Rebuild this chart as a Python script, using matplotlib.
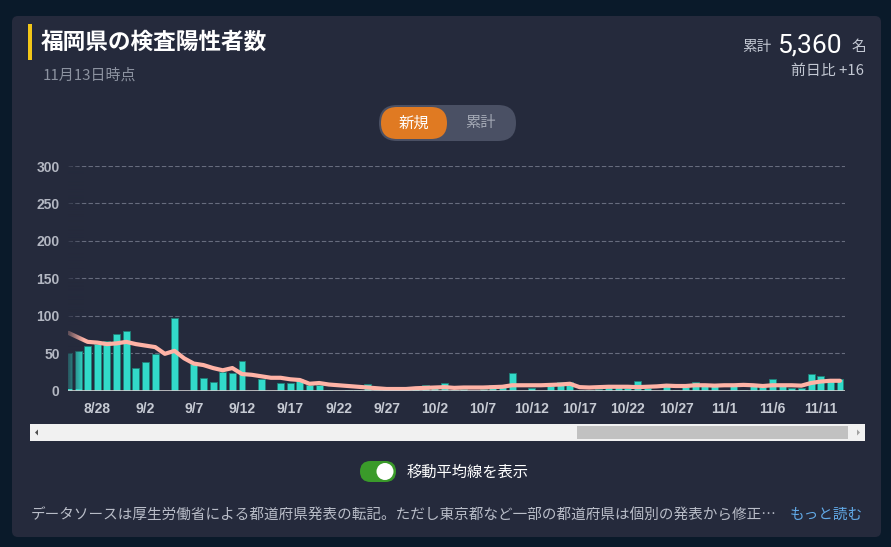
import numpy as np
import pandas as pd
import matplotlib
matplotlib.use('Agg')
import matplotlib.pyplot as plt
from matplotlib.patches import FancyBboxPatch, Rectangle, Circle, Polygon

# daily new positives, Fukuoka (8/25 - 11/13)
days = pd.date_range('2020-08-25', '2020-11-13')
new_cases = [50, 53, 60, 62, 66, 76, 80,
             30, 38, 49, 0, 97, 0, 35, 17, 11, 25, 24, 39, 0, 16, 0, 10, 10, 16, 8, 7, 1, 0, 1, 1, 9, 1, 5, 3, 2, 2,
             7, 3, 10, 1, 2, 0, 2, 7, 7, 23, 0, 3, 0, 6, 12, 12, 1, 1, 2, 6, 5, 3, 13, 4, 0, 9, 1, 5, 12, 9, 8,
             0, 9, 1, 6, 5, 16, 6, 3, 3, 22, 20, 15, 16]
moving_avg = [77, 71, 65, 64, 62, 63, 65,
              62, 60, 58, 49, 53, 43, 36, 34, 30, 27, 30, 22, 21, 19, 17, 17, 15, 14, 9, 10, 8, 7, 6, 5, 4, 3, 2, 2, 2, 3,
              3.5, 4, 4.5, 3.5, 4, 4, 4, 4.5, 5, 7, 7, 7, 7, 7.5, 8, 9, 4.5, 4, 4.5, 5, 5, 5, 4.5, 5, 5.5, 6.5, 6, 6, 7, 7, 6.5,
              7, 7, 7.5, 7, 6, 7, 7, 7, 6.5, 10, 12, 13, 13]
tick_labels = ['8/28', '9/2', '9/7', '9/12', '9/17', '9/22', '9/27', '10/2',
               '10/7', '10/12', '10/17', '10/22', '10/27', '11/1', '11/6', '11/11']
y_ticks = [0, 50, 100, 150, 200, 250, 300]

BG = '#0a1a2a'
CARD = '#252a3c'
BAR = '#32dac9'
LINE = '#ffb3a6'
JP = ['Noto Sans CJK JP', 'DejaVu Sans']

W, H = 891, 547
fig = plt.figure(figsize=(W / 100, H / 100), dpi=100)
fig.patch.set_facecolor(BG)

# pixel overlay for the card and the widgets around the chart
bg = fig.add_axes([0, 0, 1, 1], zorder=0)
bg.set_xlim(0, W)
bg.set_ylim(H, 0)
bg.axis('off')

bg.add_patch(FancyBboxPatch((12, 16), 869, 521, boxstyle='round,pad=0,rounding_size=6',
                            fc=CARD, ec='none'))
bg.add_patch(Rectangle((28, 24), 4, 36, fc='#f2c618', ec='none'))
bg.text(41, 42, '福岡県の検査陽性者数', family=JP, fontsize=16.3, fontweight='bold',
        color='white', va='center', ha='left')
bg.text(43, 75, '11月13日時点', family=JP, fontsize=10.8, color='#8c92a0', va='center', ha='left')

bg.text(771, 47, '累計', family=JP, fontsize=10.5, color='#c3c8d3', va='center', ha='right')
bg.text(842, 45, '5,360', family='Roboto', fontsize=19, color='white', va='center', ha='right')
bg.text(851, 47, '名', family=JP, fontsize=10.5, color='#c3c8d3', va='center', ha='left')
bg.text(864, 71, '前日比 +16', family=JP, fontsize=10.7, color='#c3c8d3', va='center', ha='right')

# new / cumulative toggle
bg.add_patch(FancyBboxPatch((379, 105), 137, 36, boxstyle='round,pad=0,rounding_size=18',
                            fc='#4a5064', ec='none'))
bg.add_patch(FancyBboxPatch((381, 107), 66, 32, boxstyle='round,pad=0,rounding_size=16',
                            fc='#e07a22', ec='none'))
bg.text(414, 123, '新規', family=JP, fontsize=11, color='white', va='center', ha='center')
bg.text(480, 123, '累計', family=JP, fontsize=11, color='#a3a8b4', va='center', ha='center')

# scrollbar
bg.add_patch(Rectangle((30, 424), 835, 17, fc='#f1f1f1', ec='none'))
bg.add_patch(Rectangle((577, 426), 271, 13, fc='#c1c1c1', ec='none'))
bg.add_patch(Polygon([(35, 432.5), (38, 429.5), (38, 435.5)], fc='#505050', ec='none'))
bg.add_patch(Polygon([(860, 432.5), (857, 429.5), (857, 435.5)], fc='#a3a3a3', ec='none'))

# moving average switch
bg.add_patch(FancyBboxPatch((360, 461), 36, 21, boxstyle='round,pad=0,rounding_size=10.5',
                            fc='#3a9a2a', ec='none'))
bg.add_patch(Circle((385, 471.5), 8.5, fc='white', ec='none'))
bg.text(407, 472, '移動平均線を表示', family=JP, fontsize=11, color='white', va='center', ha='left')

bg.text(31, 515, 'データソースは厚生労働省による都道府県発表の転記。ただし東京都など一部の都道府県は個別の発表から修正…',
        family=JP, fontsize=10.5, color='#b9bdc8', va='center', ha='left')
bg.text(863, 515, 'もっと読む', family=JP, fontsize=10.5, color='#62aae8', va='center', ha='right')

# chart
x0, x1, ybase, ytop = 68, 845, 390.5, 166
ax = fig.add_axes([x0 / W, (H - ybase) / H, (x1 - x0) / W, (ybase - ytop) / H], zorder=1)
ax.patch.set_alpha(0)
x = np.arange(len(days))
ax.bar(x, new_cases, width=0.72, color=BAR, edgecolor='#1f8078', linewidth=0.6, zorder=2)
ax.plot(x, moving_avg, color=LINE, lw=3, solid_joinstyle='round', solid_capstyle='round', zorder=3)
ax.axhline(0, color='#cfcfcf', lw=1.2, zorder=4)

ax.set_xlim(-0.04, len(days) - 0.48)
ax.set_ylim(0, 300)
ax.set_yticks(y_ticks)
for v in y_ticks[1:]:
    ax.axhline(v, color='#676c7e', lw=0.8, ls=(0, (4, 2)), zorder=1)

labels = [f'{d.month}/{d.day}' for d in days]
ax.set_xticks([labels.index(t) for t in tick_labels])
ax.set_xticklabels(tick_labels)
ax.tick_params(axis='x', length=0, pad=8, colors='#c6cad3', labelsize=10)
ax.tick_params(axis='y', length=0, pad=6, colors='#b3b7c2', labelsize=10)
for lab in ax.get_xticklabels() + ax.get_yticklabels():
    lab.set_family('Liberation Sans')
    lab.set_fontweight('bold')
for s in ax.spines.values():
    s.set_visible(False)

# fade at the scrolled left edge
fade = fig.add_axes([x0 / W, (H - ybase + 1) / H, 16 / W, (ybase - ytop) / H], zorder=2)
grad = np.zeros((1, 64, 4))
grad[..., :3] = matplotlib.colors.to_rgb(CARD)
grad[0, :, 3] = np.linspace(0.75, 0, 64)
fade.imshow(grad, aspect='auto', extent=(0, 1, 0, 1))
fade.axis('off')

fig.savefig('out.png', dpi=100, facecolor=fig.get_facecolor())
